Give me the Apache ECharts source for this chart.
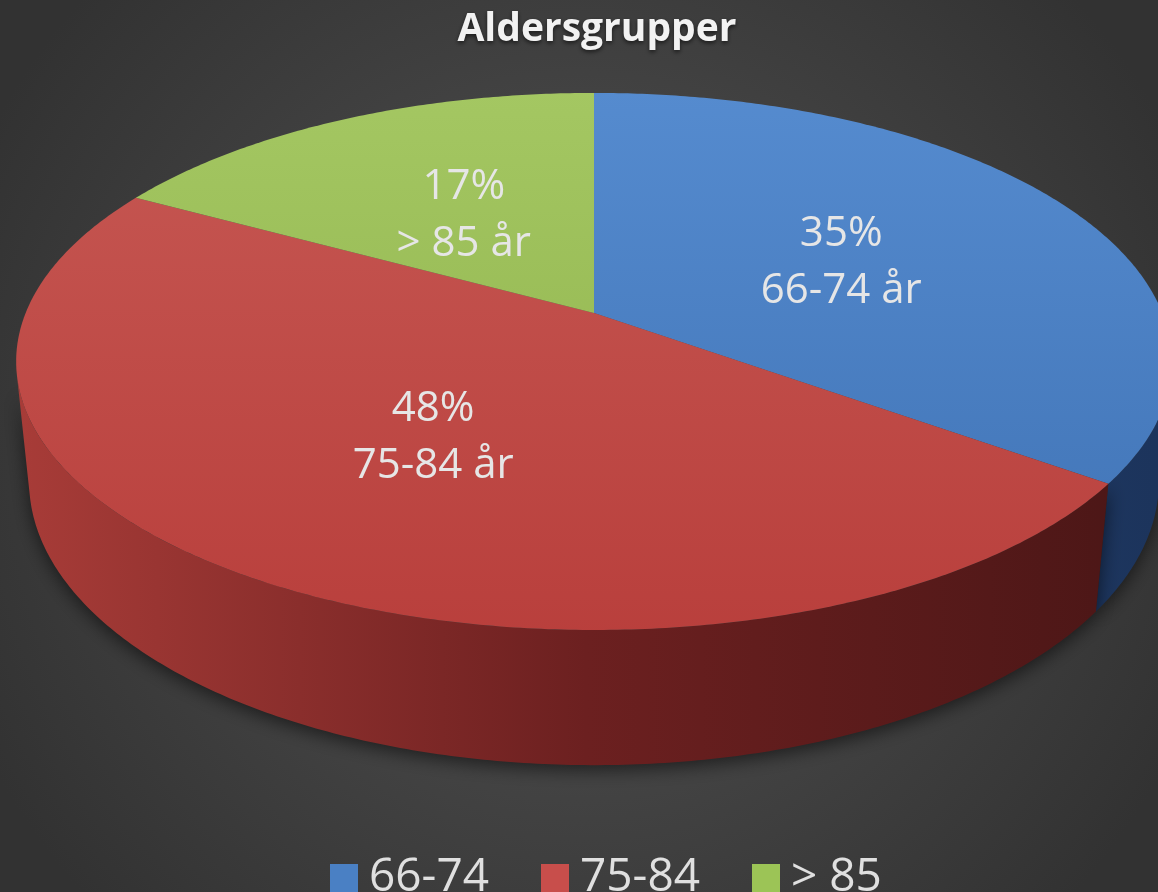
<!DOCTYPE html>
<html>
<head>
<meta charset="utf-8">
<script src="https://cdn.jsdelivr.net/npm/echarts@6/dist/echarts.min.js"></script>
<style>
  html, body { margin: 0; padding: 0; background: #3a3a3a; }
  #chart { width: 1158px; height: 892px; }
</style>
</head>
<body>
<div id="chart"></div>
<script>
const title = 'Aldersgrupper';
const categories = ['66-74', '75-84', '> 85'];
const shares = [35, 48, 17];

// palette: top face [light, dark], side wall [left, mid, right]
const topColors = [['#558bcf', '#3f72b4'], ['#c65853', '#b93f3c'], ['#a4c762', '#8db04a']];
const sideColors = [['#2c5088', '#23406e', '#1c345c'], ['#a83c38', '#6c2020', '#4a1616'], ['#6f8a3a', '#56702c', '#435722']];
const legendColors = ['#4a80c4', '#c84e4b', '#9cc456'];

// simple perspective view of a tilted disk
const view = { cx: 594, cy: 313, f: 2802, dist: 4.93, tilt: 27.2, thick: 0.239 };
const sT = Math.sin(view.tilt * Math.PI / 180);
const cT = Math.cos(view.tilt * Math.PI / 180);

function project(x, y, z) {
  const dep = view.dist + z * cT - y * sT;
  return [view.cx + view.f * x / dep, view.cy - view.f * (z * sT + y * cT) / dep];
}
function rim(theta, r, y) {
  return project(r * Math.sin(theta), y, r * Math.cos(theta));
}

const total = shares.reduce((a, b) => a + b, 0);
const starts = [];
shares.reduce((acc, v, i) => { starts[i] = acc; return acc + v; }, 0);

// outer wall visible where cos(theta) < -1/(dist*cos(tilt))
const visA = Math.acos(-1 / (view.dist * cT));
const visB = 2 * Math.PI - visA;

function makeRender(idx) {
  return function (params, api) {
    const v = api.value(0), st = api.value(1);
    const a0 = st / total * 2 * Math.PI;
    const a1 = (st + v) / total * 2 * Math.PI;
    const children = [];

    const s0 = Math.max(a0, visA), s1 = Math.min(a1, visB);
    if (s1 > s0) {
      const n = Math.max(2, Math.ceil((s1 - s0) / 0.01));
      const pts = [];
      for (let i = 0; i <= n; i++) pts.push(rim(s0 + (s1 - s0) * i / n, 1, 0));
      for (let i = n; i >= 0; i--) pts.push(rim(s0 + (s1 - s0) * i / n, 1, -view.thick));
      const sc = sideColors[idx];
      children.push({
        type: 'polygon',
        z2: 1,
        shape: { points: pts },
        style: {
          fill: new echarts.graphic.LinearGradient(14, 0, 1158, 0, [
            { offset: 0, color: sc[0] }, { offset: 0.5, color: sc[1] }, { offset: 1, color: sc[2] }
          ], true),
          shadowBlur: 18,
          shadowColor: 'rgba(0,0,0,0.55)',
          shadowOffsetY: 5
        }
      });
    }

    const n = Math.max(2, Math.ceil((a1 - a0) / 0.01));
    const top = [project(0, 0, 0)];
    for (let i = 0; i <= n; i++) top.push(rim(a0 + (a1 - a0) * i / n, 1, 0));
    const tc = topColors[idx];
    children.push({
      type: 'polygon',
      z2: 10,
      shape: { points: top },
      style: {
        fill: new echarts.graphic.LinearGradient(0, 90, 0, 640, [
          { offset: 0, color: tc[0] }, { offset: 1, color: tc[1] }
        ], true)
      }
    });

    const mid = (a0 + a1) / 2;
    const lp = rim(mid, 0.5, 0);
    children.push({
      type: 'text',
      z2: 20,
      style: {
        text: Math.round(v / total * 100) + '%\n' + categories[idx] + ' år',
        x: lp[0] + 4,
        y: lp[1] + 6,
        fill: '#e6e6e6',
        fontSize: 42,
        fontFamily: 'Open Sans',
        lineHeight: 57,
        align: 'center',
        verticalAlign: 'middle'
      }
    });
    return { type: 'group', children: children };
  };
}

const chart = echarts.init(document.getElementById('chart'), null, { renderer: 'canvas' });
chart.setOption({
  backgroundColor: {
    type: 'radial', x: 0.5, y: 0.5, r: 0.75,
    colorStops: [{ offset: 0, color: '#545454' }, { offset: 1, color: '#323232' }]
  },
  animation: false,
  title: {
    text: title,
    left: 592,
    top: 5,
    textAlign: 'center',
    textStyle: {
      fontFamily: 'Open Sans',
      fontSize: 39,
      fontWeight: 'bold',
      color: '#f2f2f2',
      textShadowColor: 'rgba(0,0,0,0.6)',
      textShadowBlur: 4,
      textShadowOffsetY: 2
    }
  },
  legend: {
    data: categories,
    top: 850,
    left: 325,
    icon: 'rect',
    itemWidth: 28,
    itemHeight: 28,
    itemGap: 52,
    textStyle: { fontFamily: 'Open Sans', fontSize: 46, lineHeight: 46, color: '#e0e0e0', padding: [0, 0, 0, 6] }
  },
  series: categories.map((name, i) => ({
    type: 'custom',
    name: name,
    coordinateSystem: 'none',
    itemStyle: { color: legendColors[i] },
    renderItem: makeRender(i),
    data: [[shares[i], starts[i]]]
  }))
});
</script>
</body>
</html>
